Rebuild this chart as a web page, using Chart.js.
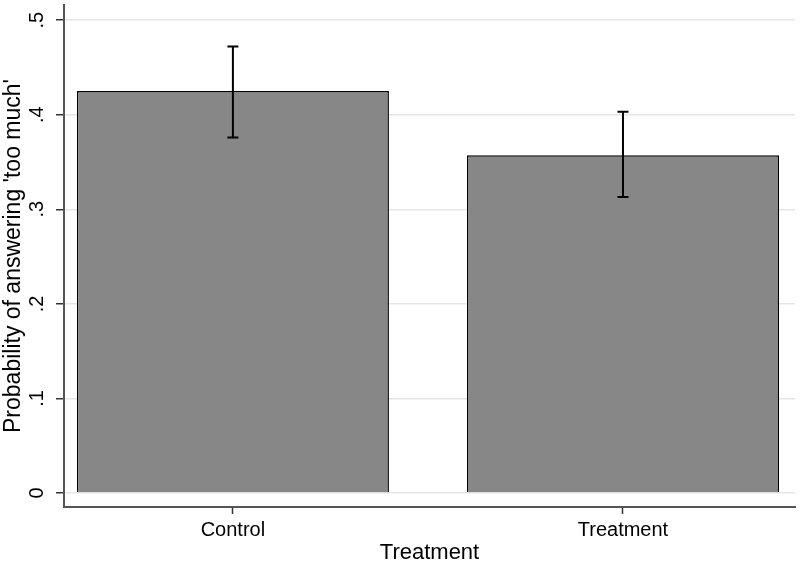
<!DOCTYPE html>
<html>
<head>
<meta charset="utf-8">
<script src="https://cdn.jsdelivr.net/npm/chart.js@4"></script>
<style>
  body { margin: 0; background: #fff; }
  #wrap { width: 800px; height: 567px; }
</style>
</head>
<body>
<div id="wrap"><canvas id="myChart"></canvas></div>
<script>
const categories = ["Control", "Treatment"];
const meanValues = [0.425, 0.357];
const ciLow = [0.376, 0.313];
const ciHigh = [0.472, 0.403];
const yTicks = [0, 0.1, 0.2, 0.3, 0.4, 0.5];

// error bars drawn on top of the bars
const errorBars = {
  id: "errorBars",
  afterDatasetsDraw(chart) {
    const ctx = chart.ctx;
    const xs = chart.scales.x;
    const ys = chart.scales.y;
    ctx.save();
    ctx.strokeStyle = "#000";
    ctx.lineWidth = 2;
    for (let i = 0; i < categories.length; i++) {
      const x = xs.getPixelForValue(i);
      const top = ys.getPixelForValue(ciHigh[i]);
      const bot = ys.getPixelForValue(ciLow[i]);
      ctx.beginPath();
      ctx.moveTo(x, top);
      ctx.lineTo(x, bot);
      ctx.moveTo(x - 5.5, top);
      ctx.lineTo(x + 5.5, top);
      ctx.moveTo(x - 5.5, bot);
      ctx.lineTo(x + 5.5, bot);
      ctx.stroke();
    }
    ctx.restore();
  },
};

new Chart("myChart", {
  type: "bar",
  data: {
    datasets: [
      {
        data: categories.map((c, i) => ({ x: i, y: meanValues[i] })),
        backgroundColor: "#878787",
        borderColor: "#000",
        borderWidth: 1.5,
        barPercentage: 1,
        categoryPercentage: 0.8,
      },
    ],
  },
  options: {
    responsive: true,
    maintainAspectRatio: false,
    animation: false,
    layout: { autoPadding: false, padding: { top: 5, right: 5, left: 0, bottom: 0 } },
    plugins: { legend: { display: false }, tooltip: { enabled: false } },
    scales: {
      x: {
        type: "linear",
        offset: false,
        min: -0.433,
        max: 1.441,
        afterBuildTicks: (s) => {
          s.ticks = categories.map((c, i) => ({ value: i }));
        },
        afterFit: (s) => {
          s.height = 60;
          s.paddingLeft = 0;
          s.paddingRight = 0;
        },
        ticks: {
          callback: (v) => categories[v],
          color: "#000",
          font: { family: "Liberation Sans, Arial", size: 20 },
          padding: 4,
          maxRotation: 0,
        },
        grid: { display: true, offset: false, drawOnChartArea: false, tickLength: 7, tickColor: "#333", tickWidth: 1.5 },
        border: { color: "#555", width: 2 },
        title: {
          display: true,
          text: "Treatment",
          color: "#000",
          font: { family: "Liberation Sans, Arial", size: 22 },
          padding: { top: 0, bottom: 1 },
        },
      },
      y: {
        min: -0.0148,
        max: 0.516,
        afterBuildTicks: (s) => {
          s.ticks = yTicks.map((v) => ({ value: v }));
        },
        afterFit: (s) => {
          s.width = 64;
          s.paddingTop = 0;
          s.paddingBottom = 0;
        },
        ticks: {
          callback: (v) => (v === 0 ? "0" : String(Math.round(v * 10) / 10).replace("0.", ".")),
          color: "#000",
          font: { family: "Liberation Sans, Arial", size: 20 },
          minRotation: 90,
          maxRotation: 90,
          crossAlign: "center",
          padding: 10,
        },
        grid: { color: "#e6e6e6", lineWidth: 1.5, tickLength: 8, tickColor: "#333", tickWidth: 1.5 },
        border: { color: "#555", width: 2 },
        title: {
          display: true,
          text: "Probability of answering 'too much'",
          color: "#000",
          font: { family: "Liberation Sans, Arial", size: 23 },
          padding: { top: 0, bottom: 0 },
        },
      },
    },
  },
  plugins: [errorBars],
});
</script>
</body>
</html>
